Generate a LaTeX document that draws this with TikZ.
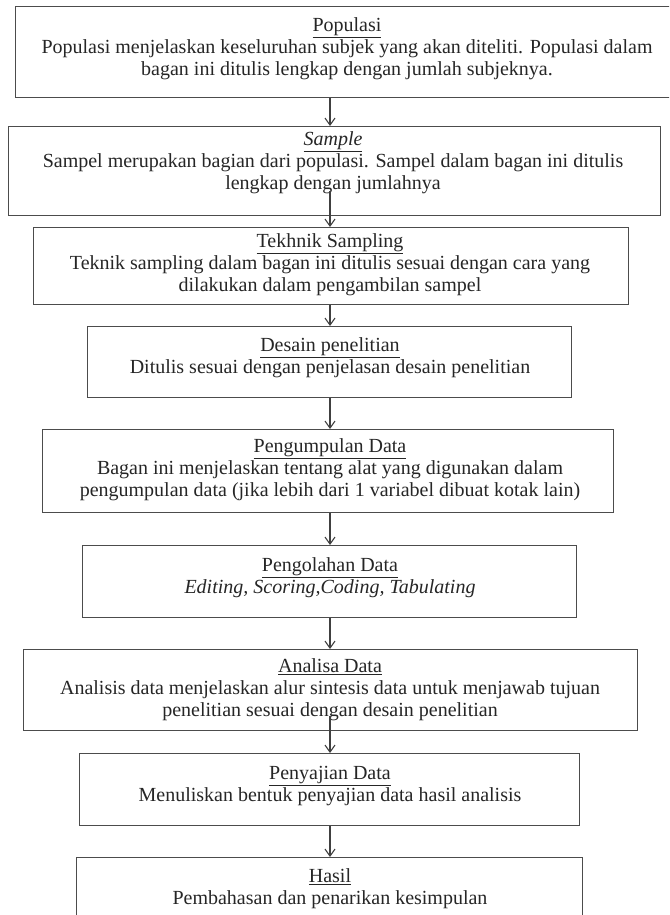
\documentclass[tikz,border=0pt]{standalone}
\usepackage{fontspec}
\setmainfont{Liberation Serif}
\usetikzlibrary{arrows.meta,calc}
\begin{document}
\begin{tikzpicture}[x=1pt,y=-1pt,
  boxnode/.style={draw=black!70,line width=1.4pt,inner sep=0pt,anchor=north west},
  txt/.style={align=center,inner sep=0pt,text=black!85,font=\fontsize{20}{22}\selectfont},
  arr/.style={draw=black!75,line width=1.1pt,-{Straight Barb[length=7pt,width=10pt,line width=1.1pt]}}]
\useasboundingbox (0,0) rectangle (669,915);
\clip (0,0) rectangle (669,915);
\fill[white] (0,0) rectangle (669,915);
% boxes
\node[boxnode,minimum width=665pt,minimum height=91pt] (b1) at (15,6) {};
\node[boxnode,minimum width=652pt,minimum height=89pt] (b2) at (8,126) {};
\node[boxnode,minimum width=595pt,minimum height=77pt] (b3) at (33,227) {};
\node[boxnode,minimum width=484pt,minimum height=71pt] (b4) at (87,326) {};
\node[boxnode,minimum width=571pt,minimum height=83pt] (b5) at (42,429) {};
\node[boxnode,minimum width=494pt,minimum height=72pt] (b6) at (82,545) {};
\node[boxnode,minimum width=614pt,minimum height=81pt] (b7) at (23,649) {};
\node[boxnode,minimum width=500pt,minimum height=72pt] (b8) at (79,753) {};
\node[boxnode,minimum width=506pt,minimum height=90pt] (b9) at (76,857) {};
% texts
\node[txt] (t1) at (347,49) {\underline{Populasi}\\Populasi menjelaskan keseluruhan subjek yang akan diteliti. Populasi dalam\\bagan ini ditulis lengkap dengan jumlah subjeknya.};
\node[txt] (t2) at (333,163) {\underline{\textit{Sample}}\\Sampel merupakan bagian dari populasi. Sampel dalam bagan ini ditulis\\lengkap dengan jumlahnya};
\node[txt] (t3) at (330,265) {\underline{Tekhnik Sampling}\\Teknik sampling dalam bagan ini ditulis sesuai dengan cara yang\\dilakukan dalam pengambilan sampel};
\node[txt] (t4) at (330,358) {\underline{Desain penelitian}\\Ditulis sesuai dengan penjelasan desain penelitian};
\node[txt] (t5) at (330,470) {\underline{Pengumpulan Data}\\Bagan ini menjelaskan tentang alat yang digunakan dalam\\pengumpulan data (jika lebih dari 1 variabel dibuat kotak lain)};
\node[txt] (t6) at (330,578) {\underline{Pengolahan Data}\\\textit{Editing, Scoring,Coding, Tabulating}};
\node[txt] (t7) at (330,690) {\underline{Analisa Data}\\Analisis data menjelaskan alur sintesis data untuk menjawab tujuan\\penelitian sesuai dengan desain penelitian};
\node[txt] (t8) at (330,786) {\underline{Penyajian Data}\\Menuliskan bentuk penyajian data hasil analisis};
\node[txt] (t9) at (330,889) {\underline{Hasil}\\Pembahasan dan penarikan kesimpulan};
% arrows
\coordinate (ax) at (330,0);
\draw[arr] (b1.south -| ax) -- (b2.north -| ax);
\draw[arr] ($(b2.south -| ax)+(0,-25)$) -- (b3.north -| ax);
\draw[arr] (b3.south -| ax) -- (b4.north -| ax);
\draw[arr] (b4.south -| ax) -- (b5.north -| ax);
\draw[arr] (b5.south -| ax) -- (b6.north -| ax);
\draw[arr] (b6.south -| ax) -- (b7.north -| ax);
\draw[arr] ($(b7.south -| ax)+(0,-15)$) -- (b8.north -| ax);
\draw[arr] (b8.south -| ax) -- (b9.north -| ax);
\end{tikzpicture}
\end{document}
